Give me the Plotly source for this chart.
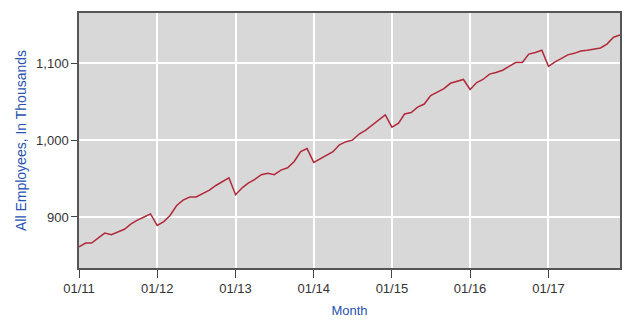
import plotly.graph_objects as go
import pandas as pd

# Monthly values, Jan 2011 .. Dec 2017 (thousands)
y2011 = [861, 866, 866, 873, 879, 877, 880, 884, 891, 896, 900, 904]
y2012 = [889, 894, 902, 915, 922, 926, 926, 931, 935, 941, 946, 951]
y2013 = [929, 938, 944, 949, 955, 957, 955, 961, 964, 972, 985, 989]
y2014 = [971, 976, 981, 985, 994, 998, 1000, 1008, 1013, 1020, 1026, 1033]
y2015 = [1017, 1022, 1034, 1036, 1043, 1047, 1058, 1062, 1067, 1074, 1077, 1079]
y2016 = [1066, 1075, 1079, 1086, 1088, 1091, 1096, 1101, 1101, 1112, 1114, 1117]
y2017 = [1096, 1102, 1106, 1111, 1113, 1116, 1117, 1119, 1120, 1125, 1134, 1137]

values = y2011 + y2012 + y2013 + y2014 + y2015 + y2016 + y2017
months = pd.date_range("2011-01-01", periods=len(values), freq="MS")

x_tick_vals = pd.date_range("2011-01-01", "2017-01-01", freq="YS")
x_tick_text = ["01/11", "01/12", "01/13", "01/14", "01/15", "01/16", "01/17"]
y_tick_vals = [900, 1000, 1100]
y_tick_text = ["900", "1,000", "1,100"]

fig = go.Figure()
fig.add_trace(go.Scatter(
    x=months, y=values, mode="lines",
    line=dict(color="#B02A3A", width=1.5),
    hoverinfo="skip", showlegend=False,
))

font_family = "Liberation Sans, Arial, sans-serif"
fig.update_layout(
    width=640, height=323,
    margin=dict(l=79, r=20, t=13, b=55),
    paper_bgcolor="white",
    plot_bgcolor="#D8D8D8",
    font=dict(family=font_family, size=13, color="#333333"),
    xaxis=dict(
        range=[months[0], months[-1]],
        tickvals=x_tick_vals, ticktext=x_tick_text,
        showgrid=True, gridcolor="white", gridwidth=1.5,
        ticks="outside", ticklen=8, tickcolor="#444444",
        showline=True, linecolor="#555555", linewidth=1.5, mirror=True,
        zeroline=False, automargin=False,
        tickfont=dict(size=13, color="#333333"),
        title=dict(text="Month", font=dict(size=13, color="#2A52B0"), standoff=11),
    ),
    yaxis=dict(
        range=[833.6, 1165.5],
        tickvals=y_tick_vals, ticktext=y_tick_text,
        showgrid=True, gridcolor="white", gridwidth=1.5,
        ticks="outside", ticklen=6, tickcolor="#444444",
        showline=True, linecolor="#555555", linewidth=1.5, mirror=True,
        zeroline=False, automargin=False,
        tickfont=dict(size=13, color="#333333"),
        title=dict(text="All Employees, In Thousands", font=dict(size=14, color="#2A52B0"), standoff=6),
    ),
)

fig.write_html("out.html")
